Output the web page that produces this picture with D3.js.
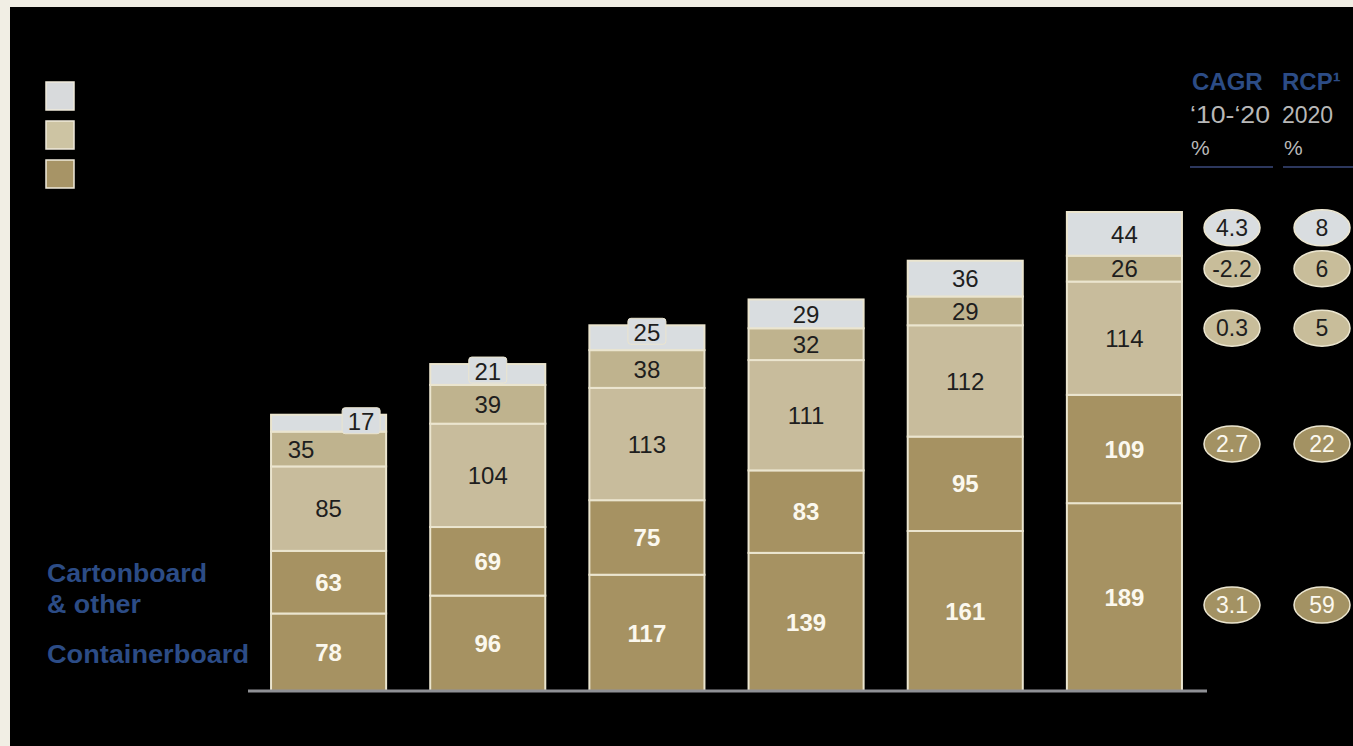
<!DOCTYPE html>
<html>
<head>
<meta charset="utf-8">
<script src="https://cdn.jsdelivr.net/npm/d3@7"></script>
<style>
  html, body { margin: 0; padding: 0; background: #f1eee4; }
  svg { display: block; font-family: "Liberation Sans", Arial, sans-serif; }
</style>
</head>
<body>
<div id="chart"></div>
<script>
// Data
var years = ["2010", "2012", "2014", "2016", "2018", "2020"];
var containerboard = [78, 96, 117, 139, 161, 189];
var cartonboard = [63, 69, 75, 83, 95, 109];
var segment3 = [85, 104, 113, 111, 112, 114];
var segment4 = [35, 39, 38, 32, 29, 26];
var segment5 = [17, 21, 25, 29, 36, 44];
var cagr = [3.1, 2.7, 0.3, -2.2, 4.3];   // bottom to top
var rcp = [59, 22, 5, 6, 8];             // bottom to top

var width = 1353, height = 746;

var svg = d3.select("#chart")
    .append("svg")
    .attr("width", width)
    .attr("height", height);

// black panel inside the beige frame
svg.append("rect")
    .attr("x", 10).attr("y", 7)
    .attr("width", width - 10).attr("height", height - 7)
    .attr("fill", "#000");

var series = [
    { name: "Containerboard", values: containerboard, fill: "#a69262", text: "#fbf8ee", bold: true },
    { name: "Cartonboard & other", values: cartonboard, fill: "#a69262", text: "#fbf8ee", bold: true },
    { name: "seg3", values: segment3, fill: "#c8bc9c", text: "#1e1e1e", bold: false },
    { name: "seg4", values: segment4, fill: "#bfb38e", text: "#1e1e1e", bold: false },
    { name: "seg5", values: segment5, fill: "#d9dde0", text: "#1e1e1e", bold: false }
];

// build stack table
var table = years.map(function(y, i) {
    var row = { year: y };
    series.forEach(function(s) { row[s.name] = s.values[i]; });
    return row;
});
var stack = d3.stack().keys(series.map(function(s) { return s.name; }));
var layers = stack(table);

var totals = table.map(function(r) {
    return d3.sum(series, function(s) { return r[s.name]; });
});

var x = d3.scaleBand()
    .domain(years)
    .range([249, 1204])
    .paddingInner(0.277)
    .paddingOuter(0.1385);

var y = d3.scaleLinear()
    .domain([0, d3.max(totals)])
    .range([691, 212]);

// bars
var g = svg.append("g");
layers.forEach(function(layer, li) {
    var s = series[li];
    g.selectAll(null)
        .data(layer)
        .enter().append("rect")
        .attr("x", function(d) { return x(d.data.year); })
        .attr("y", function(d) { return y(d[1]); })
        .attr("width", x.bandwidth())
        .attr("height", function(d) { return y(d[0]) - y(d[1]); })
        .attr("fill", s.fill)
        .attr("stroke", "#ebe5cf")
        .attr("stroke-width", 2);
});

// small tabs behind the top labels that stick out above the bar
function tabX(i) {
    return i === 0 ? x(years[i]) + x.bandwidth() - 25 : x(years[i]) + x.bandwidth() / 2;
}
[0, 1, 2].forEach(function(i) {
    var d = layers[4][i];
    svg.append("rect")
        .attr("x", tabX(i) - 19)
        .attr("y", y(d[1]) - 7)
        .attr("width", 38)
        .attr("height", 26)
        .attr("rx", 3)
        .attr("fill", "#d9dde0")
        .attr("stroke", "#ebe5cf")
        .attr("stroke-width", 1);
});

// segment labels
var labels = svg.append("g");
layers.forEach(function(layer, li) {
    var s = series[li];
    labels.selectAll(null)
        .data(layer)
        .enter().append("text")
        .attr("x", function(d, i) {
            if (i === 0 && li === 3) return x(d.data.year) + 30;
            if (li === 4 && i < 3) return tabX(i);
            return x(d.data.year) + x.bandwidth() / 2;
        })
        .attr("y", function(d, i) {
            var cy = (y(d[0]) + y(d[1])) / 2;
            if (li === 4 && i < 3) cy = y(d[1]) + 7;
            return cy;
        })
        .attr("dy", "0.36em")
        .attr("text-anchor", "middle")
        .attr("font-size", 24)
        .attr("font-weight", s.bold ? "bold" : "normal")
        .attr("fill", s.text)
        .text(function(d) { return d[1] - d[0]; });
});

// baseline
svg.append("line")
    .attr("x1", 248).attr("x2", 1207)
    .attr("y1", 691).attr("y2", 691)
    .attr("stroke", "#8f9095")
    .attr("stroke-width", 3);

// legend squares
var legendColors = ["#d8dadc", "#cdc4a3", "#a79466"];
svg.selectAll(null)
    .data(legendColors)
    .enter().append("rect")
    .attr("x", 46)
    .attr("y", function(d, i) { return 82 + i * 39; })
    .attr("width", 28)
    .attr("height", 28)
    .attr("fill", function(d) { return d; })
    .attr("stroke", "#efeadb")
    .attr("stroke-width", 1.5);

// left category labels
var blue = "#2c4c86";
var leftLabels = svg.append("g")
    .attr("font-size", 25)
    .attr("font-weight", "bold")
    .attr("fill", blue);
leftLabels.append("text").attr("x", 47).attr("y", 582)
    .attr("textLength", 160).attr("lengthAdjust", "spacingAndGlyphs").text("Cartonboard");
leftLabels.append("text").attr("x", 47).attr("y", 613)
    .attr("textLength", 94).attr("lengthAdjust", "spacingAndGlyphs").text("& other");
leftLabels.append("text").attr("x", 47).attr("y", 663)
    .attr("textLength", 202).attr("lengthAdjust", "spacingAndGlyphs").text("Containerboard");

// right-hand header
var head = svg.append("g");
var grey = "#b8b8b8";
head.append("text").attr("x", 1192).attr("y", 90)
    .attr("font-size", 24).attr("font-weight", "bold").attr("fill", blue).text("CAGR");
head.append("text").attr("x", 1282).attr("y", 90)
    .attr("font-size", 24).attr("font-weight", "bold").attr("fill", blue).text("RCP\u00b9");
head.append("text").attr("x", 1190).attr("y", 123)
    .attr("font-size", 23).attr("fill", grey)
    .attr("textLength", 80).attr("lengthAdjust", "spacingAndGlyphs").text("\u201810-\u201820");
head.append("text").attr("x", 1282).attr("y", 123)
    .attr("font-size", 23).attr("fill", grey).text("2020");
head.append("text").attr("x", 1191).attr("y", 155)
    .attr("font-size", 21).attr("fill", grey).text("%");
head.append("text").attr("x", 1284).attr("y", 155)
    .attr("font-size", 21).attr("fill", grey).text("%");
head.append("line").attr("x1", 1190).attr("x2", 1273).attr("y1", 167).attr("y2", 167)
    .attr("stroke", "#3b4a7c").attr("stroke-width", 1.5);
head.append("line").attr("x1", 1283).attr("x2", 1353).attr("y1", 167).attr("y2", 167)
    .attr("stroke", "#3b4a7c").attr("stroke-width", 1.5);

// badges aligned with the last bar's segments
var last = years.length - 1;
var badgeY = layers.map(function(layer) {
    var d = layer[last];
    return (y(d[0]) + y(d[1])) / 2;
});
badgeY[4] -= 6;
badgeY[2] -= 10;
badgeY[0] += 8;
badgeY[1] -= 5;

function badges(values, cx, decimals) {
    var bg = svg.append("g");
    values.forEach(function(v, i) {
        var s = series[i];
        var fill = i === 4 ? "#d9dde0" : (i >= 2 ? "#c8bd9a" : "#a39263");
        bg.append("ellipse")
            .attr("cx", cx).attr("cy", badgeY[i])
            .attr("rx", 28).attr("ry", 18)
            .attr("fill", fill)
            .attr("stroke", "#ece6d0")
            .attr("stroke-width", 1.5);
        bg.append("text")
            .attr("x", cx).attr("y", badgeY[i])
            .attr("dy", "0.36em")
            .attr("text-anchor", "middle")
            .attr("font-size", 23)
            .attr("fill", s.text)
            .text(v.toFixed(decimals));
    });
}
badges(cagr, 1232, 1);
badges(rcp, 1322, 0);
</script>
</body>
</html>
